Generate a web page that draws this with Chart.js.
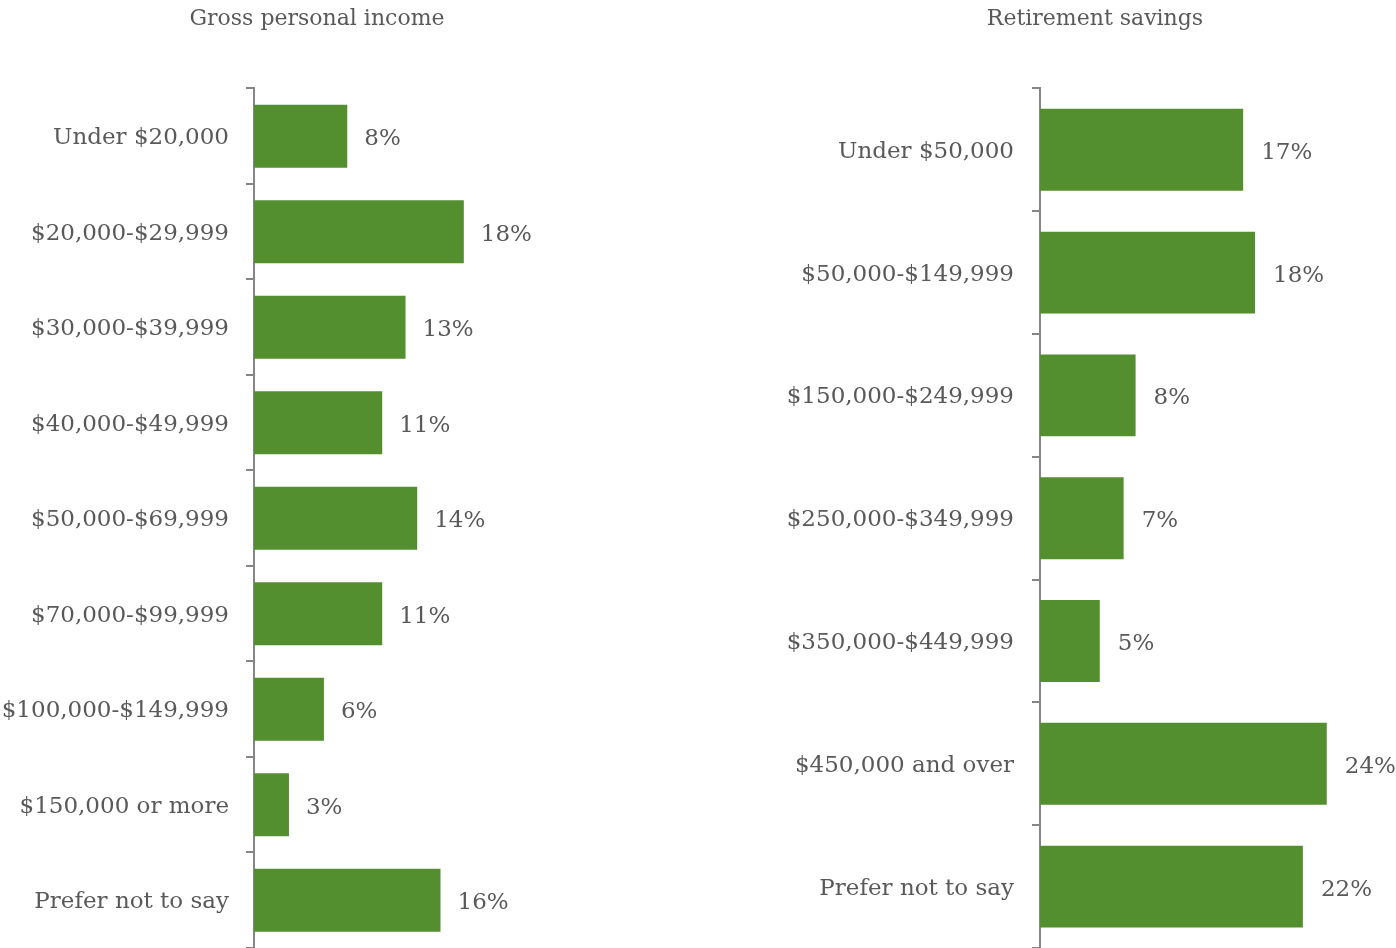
<!DOCTYPE html>
<html>
<head>
<meta charset="utf-8">
<script src="https://cdn.jsdelivr.net/npm/chart.js@4.4.1/dist/chart.umd.min.js"></script>
<style>
  html, body { margin: 0; padding: 0; background: #ffffff; }
  body { width: 1396px; height: 948px; position: relative; overflow: hidden; }
  canvas { position: absolute; top: 0; }
  #income { left: 0; }
  #savings { left: 700px; }
</style>
</head>
<body>
<canvas id="income" width="634" height="948"></canvas>
<canvas id="savings" width="790" height="948"></canvas>
<script>
// Survey distributions (percent of respondents)
const incomeTitle = 'Gross personal income';
const incomeCategories = [
  'Under $20,000', '$20,000-$29,999', '$30,000-$39,999', '$40,000-$49,999',
  '$50,000-$69,999', '$70,000-$99,999', '$100,000-$149,999', '$150,000 or more',
  'Prefer not to say'
];
const incomeValues = [8, 18, 13, 11, 14, 11, 6, 3, 16];

const savingsTitle = 'Retirement savings';
const savingsCategories = [
  'Under $50,000', '$50,000-$149,999', '$150,000-$249,999', '$250,000-$349,999',
  '$350,000-$449,999', '$450,000 and over', 'Prefer not to say'
];
const savingsValues = [17, 18, 8, 7, 5, 24, 22];

const FONT = "'DejaVu Serif', 'Liberation Serif', serif";
const TEXT = '#595959';
const AXIS = '#868686';
const GREEN = '#538F2F';

// Writes "NN%" to the right of every bar
const valueLabels = {
  id: 'valueLabels',
  afterDatasetsDraw(chart, args, opts) {
    const ctx = chart.ctx;
    const meta = chart.getDatasetMeta(0);
    const data = chart.data.datasets[0].data;
    ctx.save();
    ctx.font = '23px ' + FONT;
    ctx.fillStyle = TEXT;
    ctx.textAlign = 'left';
    ctx.textBaseline = 'middle';
    meta.data.forEach((bar, i) => {
      ctx.fillText(data[i] + '%', bar.x + opts.offset, bar.y + 3);
    });
    ctx.restore();
  }
};

function makeChart(id, title, labels, values, opt) {
  return new Chart(document.getElementById(id), {
    type: 'bar',
    data: {
      labels: labels,
      datasets: [{
        data: values,
        backgroundColor: GREEN,
        borderWidth: 0,
        categoryPercentage: 1,
        barPercentage: opt.barPct
      }]
    },
    options: {
      indexAxis: 'y',
      responsive: false,
      animation: false,
      layout: { padding: 0 },
      plugins: {
        legend: { display: false },
        tooltip: { enabled: false },
        title: {
          display: true,
          text: title,
          color: TEXT,
          font: { family: FONT, size: 22, weight: 'normal', lineHeight: 1.2 },
          padding: { top: 6, bottom: 56 }
        },
        valueLabels: { offset: opt.labelOffset }
      },
      scales: {
        x: { display: false, min: 0, max: opt.xMax },
        y: {
          afterFit(scale) {
            scale.width = opt.axisWidth;
            // let the category bands run to the very bottom edge
            scale.paddingTop = 0;
            scale.paddingBottom = 0;
          },
          grid: {
            display: true,
            drawOnChartArea: false,
            drawTicks: true,
            tickLength: 8,
            color: AXIS,
            lineWidth: 2,
            offset: true
          },
          border: { display: true, color: AXIS, width: 2 },
          ticks: {
            color: TEXT,
            padding: opt.tickPad,
            labelOffset: 2,
            font: { family: FONT, size: 23 }
          }
        }
      }
    },
    plugins: [valueLabels]
  });
}

makeChart('income', incomeTitle, incomeCategories, incomeValues, {
  barPct: 0.66, axisWidth: 254, xMax: 32.6, tickPad: 17, labelOffset: 17
});
makeChart('savings', savingsTitle, savingsCategories, savingsValues, {
  barPct: 0.667, axisWidth: 340, xMax: 37.66, tickPad: 18, labelOffset: 18
});
</script>
</body>
</html>
